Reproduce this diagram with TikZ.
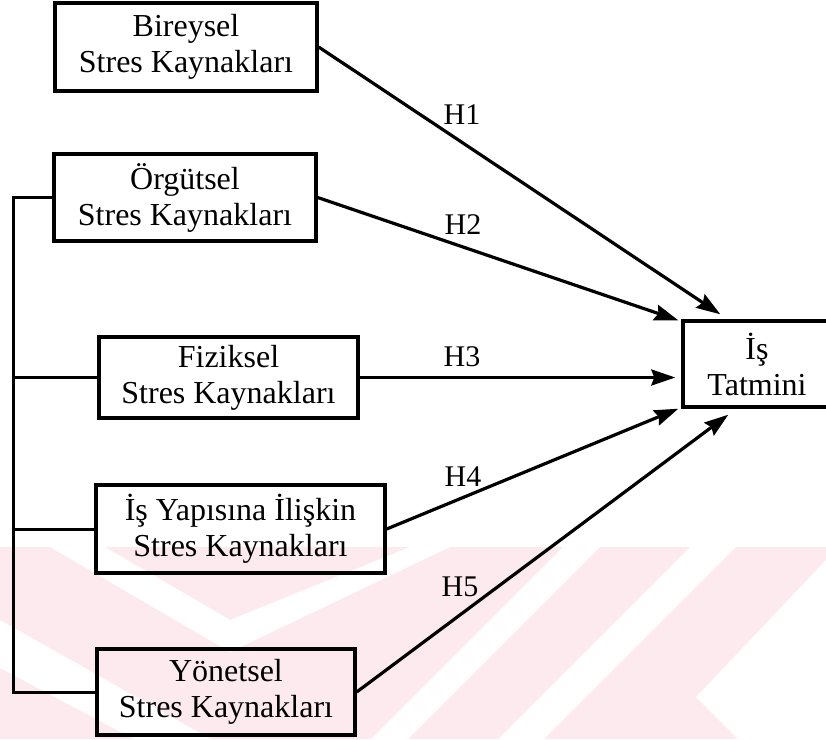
\documentclass[tikz,border=0pt]{standalone}
\usepackage{fontspec}
\setmainfont{Liberation Serif}
\usetikzlibrary{arrows.meta,calc}
\definecolor{wmpink}{RGB}{252,234,238}
\tikzset{
  box/.style={draw, line width=3.4pt, align=center, inner sep=0pt,
    font=\fontsize{32}{36}\selectfont},
  hyp/.style={font=\fontsize{30}{34}\selectfont, inner sep=0pt},
  arr/.style={line width=3.2pt, -{Stealth[length=24pt,width=16pt,inset=3pt]}},
  conn/.style={line width=3pt, line join=miter},
  wm/.style={fill=wmpink},
  wmw/.style={fill=white}
}
\begin{document}
\begin{tikzpicture}[x=1pt,y=-1pt]
\useasboundingbox (0,0) rectangle (826,739);
% faint watermark
\fill[wm] (0,547) rectangle (826,739);
\fill[wmw] (50,547) -- (230,652) -- (450,547) -- (410,547) -- (230,620) -- (105,547) -- cycle;
\fill[wmw] (0,620) -- (230,750) -- (230,790) -- (0,668) -- cycle;
\fill[wmw] (563,547) -- (600,547) -- (408,739) -- (371,739) -- cycle;
\fill[wmw] (690,547) -- (736,547) -- (544,739) -- (498,739) -- cycle;
\fill[wmw] (826,560) -- (696,697) -- (738,739) -- (826,739) -- cycle;
% boxes
\node[box, minimum width=262, minimum height=88] (bir) at (186,47) {Bireysel\\Stres Kaynakları};
\node[box, minimum width=262, minimum height=87] (org) at (185,197.5) {Örgütsel\\Stres Kaynakları};
\node[box, minimum width=259, minimum height=81] (fiz) at (228.5,377.5) {Fiziksel\\Stres Kaynakları};
\node[box, minimum width=289, minimum height=88] (isy) at (240.5,529) {İş Yapısına İlişkin\\Stres Kaynakları};
\node[box, minimum width=258, minimum height=86] (yon) at (226,692) {Yönetsel\\Stres Kaynakları};
\node[box, minimum width=148, minimum height=86] (tat) at (757,364) {İş\\Tatmini};
% trunk
\coordinate (trunk) at (13,0);
\draw[conn] (org.west) -- (org.west -| trunk) -- (yon.west -| trunk) -- (yon.west);
\draw[conn] (fiz.west) -- (fiz.west -| trunk);
\draw[conn] (isy.west) -- (isy.west -| trunk);
% arrows
\coordinate (t1) at ($(tat.north west)+(39,-5)$);
\coordinate (t2) at ($(tat.north west)+(-3,1)$);
\coordinate (t3) at ($(tat.west |- fiz.east)+(-6,0)$);
\coordinate (t4) at ($(tat.south west)+(-3,0)$);
\coordinate (t5) at ($(tat.south west)+(47,6)$);
\draw[arr] (bir.east) -- (t1);
\draw[arr] (org.east) -- (t2);
\draw[arr] (fiz.east) -- (t3);
\draw[arr] (isy.east) -- (t4);
\draw[arr] (yon.east) -- (t5);
% labels
\node[hyp] (h1) at (462,115) {H1};
\node[hyp] (h2) at (463,225) {H2};
\node[hyp] (h3) at (462,357) {H3};
\node[hyp] (h4) at (463,477) {H4};
\node[hyp] (h5) at (460,587) {H5};
\end{tikzpicture}
\end{document}
